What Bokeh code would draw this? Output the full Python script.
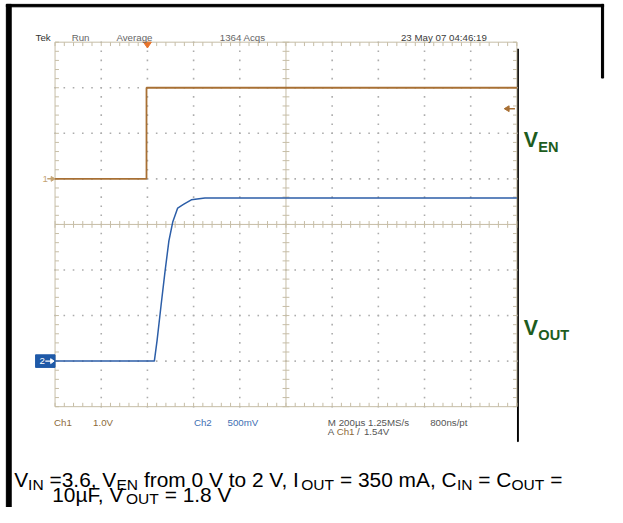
import numpy as np
from bokeh.plotting import figure
from bokeh.models import Range1d, Label
from bokeh.embed import file_html
from bokeh.resources import INLINE

# ---------------- data ----------------
# Ch1 = V_EN (1.0 V/div), Ch2 = V_OUT (500 mV/div); time in µs, trigger at 0
ch1_time_us = [-400, -4, -4, 1600]
ch1_volts = [0.0, 0.0, 2.0, 2.0]
ch2_time_us = [-400, 30, 42, 59, 76, 93, 110, 131, 156, 190, 249, 1600]
ch2_volts = [0.0, 0.0, 0.23, 0.61, 0.98, 1.32, 1.53, 1.68, 1.72, 1.77, 1.79, 1.79]

time_per_div_us = 200
time_start_us = -400
h_divs, v_divs = 10, 8
ch1_volts_per_div = 1.0
ch2_volts_per_div = 0.5
ch1_position_div = 1.0
ch2_position_div = -3.0
trigger_time_us = 0
trigger_level_v = 1.54

status_top = ["Tek", "Run", "Average", "1364 Acqs", "23 May 07 04:46:19"]
status_bottom_1 = ["Ch1", "1.0V", "Ch2", "500mV", "M 200µs 1.25MS/s", "800ns/pt"]
status_bottom_2 = ["A", "Ch1", "/", "1.54V"]
caption_line1 = [("V", 0), ("IN", 1), (" =3.6, V", 0), ("EN", 1), (" from 0 V to 2 V, I", 0),
                 ("OUT", 1), (" = 350 mA, C", 0), ("IN", 1), (" = C", 0), ("OUT", 1), (" =", 0)]
caption_line2 = [("10µF, V", 0), ("OUT", 1), (" = 1.8 V", 0)]

# ---------------- layout ----------------
W, H = 607, 507            # canvas
RW, RH = 623, 523          # layout units (reference picture size)
FS = 0.972                 # font scale from layout units to canvas pixels
GX0, GX1, GY0, GY1 = 56, 530, 43, 419   # graticule box in layout units
t_span = h_divs * time_per_div_us
t_end = time_start_us + t_span
t_pp = t_span / (GX1 - GX0)
d_pp = v_divs / (GY1 - GY0)

p = figure(width=W, height=H, output_backend="svg", toolbar_location=None,
           x_range=Range1d(0, RW), y_range=Range1d(RH, 0),
           x_axis_location=None, y_axis_location=None)
p.min_border = 0
p.min_border_left = p.min_border_right = p.min_border_top = p.min_border_bottom = 0
p.outline_line_color = None
p.background_fill_color = "white"
p.border_fill_color = "white"
p.grid.visible = False
p.extra_x_ranges = {"t": Range1d(time_start_us - GX0 * t_pp, t_end + (RW - GX1) * t_pp)}
p.extra_y_ranges = {"d": Range1d(-v_divs / 2 - (RH - GY1) * d_pp, v_divs / 2 + GY0 * d_pp)}
S = dict(x_range_name="t", y_range_name="d")

# ---------------- page border (layout units) ----------------
p.quad(left=[6, 6, 616.8], right=[11, 619, 619], top=[4, 4, 4], bottom=[RH, 6.5, 80], color="black")
p.quad(left=[530.6], right=[531.5], top=[50], bottom=[455], color="black")

GRAT = "#c6bda6"
DOT = "#acacac"
tl, tr = time_start_us, t_end
db, dt = -v_divs / 2, v_divs / 2
minor_t = tl + np.arange(0, h_divs * 5 + 1) * time_per_div_us / 5
minor_d = db + np.arange(0, v_divs * 5 + 1) * 0.2
tc = tl + (h_divs / 2) * time_per_div_us

# dotted major grid
dx, dy = [], []
for k in range(1, h_divs):
    if k == h_divs // 2:
        continue
    dx += [tl + k * time_per_div_us] * len(minor_d)
    dy += list(minor_d)
for j in range(-v_divs // 2 + 1, v_divs // 2):
    if j == 0:
        continue
    dx += list(minor_t)
    dy += [j] * len(minor_t)
p.scatter(dx, dy, marker="square", size=1.6, color=DOT, line_color=None, **S)

# frame
p.segment([tl, tl, tl, tr], [db, dt, db, db], [tr, tr, tl, tr], [db, dt, dt, dt],
          line_color=GRAT, line_width=1, **S)
# center cross
p.segment([tl, tc], [0, db], [tr, tc], [0, dt], line_color=GRAT, line_width=1, **S)
# edge ticks
lt, ld = 4 * t_pp, 4 * d_pp
p.segment(minor_t, [dt] * len(minor_t), minor_t, [dt - ld] * len(minor_t), line_color=GRAT, **S)
p.segment(minor_t, [db] * len(minor_t), minor_t, [db + ld] * len(minor_t), line_color=GRAT, **S)
p.segment([tl] * len(minor_d), minor_d, [tl + lt] * len(minor_d), minor_d, line_color=GRAT, **S)
p.segment([tr] * len(minor_d), minor_d, [tr - lt] * len(minor_d), minor_d, line_color=GRAT, **S)
# center ticks
ct, cd = 3.5 * t_pp, 3.5 * d_pp
p.segment(minor_t, [-cd] * len(minor_t), minor_t, [cd] * len(minor_t), line_color=GRAT, **S)
p.segment([tc - ct] * len(minor_d), minor_d, [tc + ct] * len(minor_d), minor_d, line_color=GRAT, **S)

# ---------------- traces ----------------
CH1 = "#a87034"
CH2 = "#2c5ea8"
ch1_div = np.array(ch1_volts) / ch1_volts_per_div + ch1_position_div
ch2_div = np.array(ch2_volts) / ch2_volts_per_div + ch2_position_div
p.line(ch1_time_us, ch1_div, line_color=CH1, line_width=1.8, **S)
p.line(ch2_time_us, ch2_div, line_color=CH2, line_width=1.5, **S)

# trigger position marker (top)
p.patch([trigger_time_us - 4 * t_pp, trigger_time_us + 4 * t_pp, trigger_time_us],
        [dt, dt, dt - 6 * d_pp], fill_color="#e8732a", line_color="#e8732a", **S)
# trigger level marker (right)
tlev = trigger_level_v / ch1_volts_per_div + ch1_position_div
p.segment([tr - 12 * t_pp], [tlev], [tr - 2 * t_pp], [tlev], line_color=CH1, line_width=1.5, **S)
p.patch([tr - 13 * t_pp, tr - 8 * t_pp, tr - 8 * t_pp], [tlev, tlev + 3 * d_pp, tlev - 3 * d_pp],
        fill_color=CH1, line_color=CH1, **S)

# Ch1 ground marker
C1M = "#c4a474"
p.segment([tl - 8 * t_pp], [ch1_position_div], [tl - 1 * t_pp], [ch1_position_div], line_color=C1M, line_width=1.5, **S)
p.patch([tl, tl - 4 * t_pp, tl - 4 * t_pp], [ch1_position_div, ch1_position_div + 2.5 * d_pp, ch1_position_div - 2.5 * d_pp],
        fill_color=C1M, line_color=C1M, **S)
p.add_layout(Label(x=tl - 13 * t_pp, y=ch1_position_div, text="1", text_font="Liberation Sans",
                   text_font_size=f"{10 * FS:.1f}px", text_color=C1M, text_baseline="middle", text_align="left", **S))
# Ch2 ground marker
p.quad(left=[tl - 20 * t_pp], right=[tl], top=[ch2_position_div + 6.5 * d_pp], bottom=[ch2_position_div - 6.5 * d_pp],
       fill_color="#1f5aa8", line_color="#1f5aa8", **S)
p.segment([tl - 10 * t_pp], [ch2_position_div], [tl - 3 * t_pp], [ch2_position_div], line_color="white", line_width=1.3, **S)
p.patch([tl - 1 * t_pp, tl - 4.5 * t_pp, tl - 4.5 * t_pp], [ch2_position_div, ch2_position_div + 2.5 * d_pp, ch2_position_div - 2.5 * d_pp],
        fill_color="white", line_color="white", **S)
p.add_layout(Label(x=tl - 16 * t_pp, y=ch2_position_div, text="2", text_font="Liberation Sans",
                   text_font_size=f"{10 * FS:.1f}px", text_color="white", text_baseline="middle", text_align="left", **S))


def lab(text, x, y, size, color, style="normal", font="Liberation Sans"):
    p.add_layout(Label(x=x, y=y, text=text, text_font=font, text_font_size=f"{size * FS:.2f}px",
                       text_color=color, text_font_style=style, text_baseline="alphabetic", text_align="left"))


# status top
top_x = [36, 73, 119, 225, 411]
top_c = ["#333333", "#666666", "#666666", "#666666", "#3c3c3c"]
for t, x, c in zip(status_top, top_x, top_c):
    lab(t, x, 38.5, 10, c)
# status bottom
b1_x = [55, 95, 198.5, 233, 336, 441]
b1_c = ["#8c6a3a", "#8c6a3a", "#3f6fb3", "#3f6fb3", "#555555", "#555555"]
for t, x, c in zip(status_bottom_1, b1_x, b1_c):
    lab(t, x, 435.5, 10, c)
b2_x = [336, 345, 366, 373]
b2_c = ["#555555", "#8c6a3a", "#555555", "#555555"]
for t, x, c in zip(status_bottom_2, b2_x, b2_c):
    lab(t, x, 444.5, 10, c)

# channel names
GREEN = "#1d5c20"
lab("V", 537, 144, 22, GREEN, "bold")
lab("EN", 552, 151, 15, GREEN, "bold")
lab("V", 537, 338, 22, GREEN, "bold")
lab("OUT", 552, 345, 15, GREEN, "bold")

# caption with subscripts
ARIAL = {' ': 278, '=': 584, '3': 556, '.': 278, '6': 556, ',': 278, 'V': 667, 'f': 278, 'r': 333,
         'o': 556, 'm': 833, '0': 556, 't': 278, '2': 556, 'I': 278, '5': 556, 'A': 667, 'C': 722,
         '1': 556, 'µ': 576, 'F': 611, '8': 556, 'N': 722, 'E': 667, 'O': 778, 'U': 722, 'T': 611}
MAIN, SUB = 21.5, 16


def caption(pieces, x, base, sub_base):
    for text, is_sub in pieces:
        size = SUB if is_sub else MAIN
        stripped = text.lstrip(" ")
        x += (len(text) - len(stripped)) * ARIAL[' '] * size / 1000
        lab(stripped, x, sub_base if is_sub else base, size, "black")
        x += sum(ARIAL[ch] for ch in stripped) * size / 1000


caption(caption_line1, 14, 494, 499)
caption(caption_line2, 53, 510, 514)

html = file_html(p, INLINE)
with open("out.html", "w", encoding="utf-8") as f:
    f.write(html)
